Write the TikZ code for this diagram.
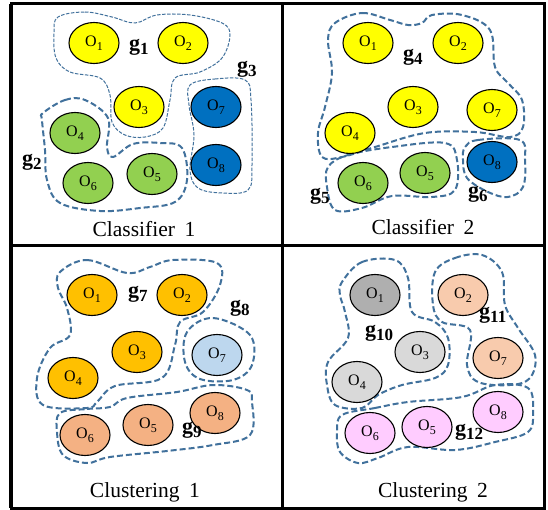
\documentclass[tikz,border=0pt]{standalone}
\usepackage{fontspec}
\setmainfont{Liberation Serif}
\usetikzlibrary{shapes.geometric}

\definecolor{grpline}{HTML}{41719C}
\definecolor{cyellow}{HTML}{FFFF00}
\definecolor{cgreen}{HTML}{92D050}
\definecolor{cblue}{HTML}{0070C0}
\definecolor{corange}{HTML}{FFC000}
\definecolor{clightblue}{HTML}{BDD7EE}
\definecolor{csalmon}{HTML}{F4B183}
\definecolor{cgraydark}{HTML}{AFAFAF}
\definecolor{cgraylight}{HTML}{D9D9D9}
\definecolor{cpeach}{HTML}{F8CBAD}
\definecolor{cpink}{HTML}{FFCCFF}

% object label O_i and group label g_i
\newcommand{\objlabel}[1]{O\raisebox{-4pt}{\fontsize{12}{12}\selectfont #1}}
\newcommand{\grouplabel}[1]{\textbf{g\raisebox{-4pt}{\fontsize{17}{17}\selectfont\bfseries #1}}}

\begin{document}
\begin{tikzpicture}[x=1pt,y=-1pt,
  obj/.style={ellipse, draw=black, line width=1.1pt, minimum width=50pt,
    minimum height=41pt, inner sep=0pt, font=\fontsize{16}{16}\selectfont},
  thingrp/.style={draw=grpline, line width=1pt, dash pattern=on 3.5pt off 1.5pt},
  thickgrp/.style={draw=grpline, line width=2pt, dash pattern=on 6pt off 3pt},
  glabel/.style={anchor=base west, inner sep=0pt, font=\fontsize{22}{22}\selectfont},
  caption/.style={anchor=base, inner sep=0pt, font=\fontsize{21.5}{21.5}\selectfont},
  frame/.style={line width=3pt}]

\useasboundingbox (0,0) rectangle (548,510);
\fill[white] (0,0) rectangle (548,510);

% ---------- Classifier 1 ----------
\draw[thingrp] plot[smooth cycle, tension=0.6] coordinates {
  (58,17) (85,12) (112,17) (135,23) (157,15) (190,15) (222,23) (230,35)
  (222,58) (200,72) (175,78) (170,100) (163,128) (145,137) (125,135)
  (112,122) (110,95) (100,78) (70,72) (56,58) (54,33)};
\draw[thingrp] plot[smooth cycle, tension=0.6] coordinates {
  (190,85) (215,79) (245,80) (251,100) (252,165) (248,190) (222,193)
  (198,188) (190,170) (194,135) (189,105)};
\draw[thickgrp] plot[smooth cycle, tension=0.6] coordinates {
  (43,113) (65,100) (85,100) (108,118) (107,147) (113,157) (133,144)
  (160,143) (182,148) (187,180) (175,202) (140,208) (100,211) (60,203)
  (47,180) (45,150) (42,120)};

\node[obj, fill=cyellow] (a1) at (94,43) {\objlabel{1}};
\node[obj, fill=cyellow] (a2) at (183,43) {\objlabel{2}};
\node[obj, fill=cyellow] (a3) at (139,107) {\objlabel{3}};
\node[obj, fill=cgreen] (a4) at (75,133) {\objlabel{4}};
\node[obj, fill=cgreen] (a5) at (152,174) {\objlabel{5}};
\node[obj, fill=cgreen] (a6) at (88,183) {\objlabel{6}};
\node[obj, fill=cblue] (a7) at (216,107) {\objlabel{7}};
\node[obj, fill=cblue] (a8) at (216,165) {\objlabel{8}};

\node[glabel] (g1) at (129,51) {\grouplabel{1}};
\node[glabel] (g2) at (22,166) {\grouplabel{2}};
\node[glabel] (g3) at (237,73) {\grouplabel{3}};
\node[caption] (cap1) at (144,237) {Classifier\hspace{0.45em}1};

% ---------- Classifier 2 ----------
\draw[thickgrp] plot[smooth cycle, tension=0.6] coordinates {
  (335,23) (362,13) (390,20) (408,25) (422,23) (432,15) (462,15) (490,30)
  (495,67) (508,83) (522,100) (523,127) (510,137) (475,132) (425,133)
  (375,147) (342,157) (322,157) (318,133) (325,107) (332,73) (328,40)};
\draw[thickgrp] plot[smooth cycle, tension=0.6] coordinates {
  (328,167) (348,155) (392,147) (445,143) (457,160) (455,190) (432,197)
  (392,196) (362,208) (335,210) (327,187)};
\draw[thickgrp] plot[smooth cycle, tension=0.6] coordinates {
  (465,147) (478,140) (520,140) (525,160) (523,187) (508,197) (488,192)
  (467,178) (463,160)};

\node[obj, fill=cyellow] (b1) at (368,43) {\objlabel{1}};
\node[obj, fill=cyellow] (b2) at (458,43) {\objlabel{2}};
\node[obj, fill=cyellow] (b3) at (413,107) {\objlabel{3}};
\node[obj, fill=cyellow] (b4) at (350,133) {\objlabel{4}};
\node[obj, fill=cgreen] (b5) at (425,173) {\objlabel{5}};
\node[obj, fill=cgreen] (b6) at (363,183) {\objlabel{6}};
\node[obj, fill=cyellow] (b7) at (492,110) {\objlabel{7}};
\node[obj, fill=cblue] (b8) at (492,162) {\objlabel{8}};

\node[glabel] (g4) at (403,61) {\grouplabel{4}};
\node[glabel] (g5) at (310,200) {\grouplabel{5}};
\node[glabel] (g6) at (468,198) {\grouplabel{6}};
\node[caption] (cap2) at (423,235) {Classifier\hspace{0.45em}2};

% ---------- Clustering 1 ----------
\draw[thickgrp] plot[smooth cycle, tension=0.6] coordinates {
  (60,272) (87,260) (127,273) (150,267) (173,260) (217,263) (220,285)
  (203,312) (180,322) (175,345) (162,378) (115,386) (97,402) (87,408)
  (43,405) (37,378) (50,348) (70,335) (67,308) (58,288)};
\draw[thickgrp] plot[smooth cycle, tension=0.6] coordinates {
  (187,332) (213,318) (250,335) (252,365) (233,380) (200,379) (185,362)};
\draw[thickgrp] plot[smooth cycle, tension=0.6] coordinates {
  (60,413) (87,409) (110,407) (127,398) (177,392) (213,385) (247,390)
  (252,402) (250,435) (213,445) (167,451) (110,457) (87,463) (63,455)
  (57,432)};

\node[obj, fill=corange] (c1) at (92,295) {\objlabel{1}};
\node[obj, fill=corange] (c2) at (182,295) {\objlabel{2}};
\node[obj, fill=corange] (c3) at (137,352) {\objlabel{3}};
\node[obj, fill=corange] (c4) at (73,378) {\objlabel{4}};
\node[obj, fill=csalmon] (c5) at (148,425) {\objlabel{5}};
\node[obj, fill=csalmon] (c6) at (85,435) {\objlabel{6}};
\node[obj, fill=clightblue] (c7) at (217,355) {\objlabel{7}};
\node[obj, fill=csalmon] (c8) at (215,413) {\objlabel{8}};

\node[glabel] (g7) at (128,298) {\grouplabel{7}};
\node[glabel] (g8) at (230,311) {\grouplabel{8}};
\node[glabel] (g9) at (182,433) {\grouplabel{9}};
\node[caption] (cap3) at (145,497) {Clustering\hspace{0.45em}1};

% ---------- Clustering 2 ----------
\draw[thickgrp] plot[smooth cycle, tension=0.6] coordinates {
  (342,282) (362,262) (395,260) (408,278) (412,312) (435,322) (448,338)
  (448,365) (435,378) (402,385) (378,395) (362,408) (335,405) (327,385)
  (328,362) (348,338) (345,312) (340,295)};
\draw[thickgrp] plot[smooth cycle, tension=0.6] coordinates {
  (435,272) (455,258) (482,255) (502,272) (505,305) (518,328) (535,355)
  (530,378) (510,385) (478,382) (467,365) (470,330) (442,322) (433,305)};
\draw[thickgrp] plot[smooth cycle, tension=0.6] coordinates {
  (342,415) (375,408) (408,402) (462,397) (495,385) (528,388) (533,412)
  (528,432) (495,442) (455,450) (408,447) (378,458) (358,463) (340,452)
  (337,432)};

\node[obj, fill=cgraydark] (d1) at (375,295) {\objlabel{1}};
\node[obj, fill=cpeach] (d2) at (463,295) {\objlabel{2}};
\node[obj, fill=cgraylight] (d3) at (420,352) {\objlabel{3}};
\node[obj, fill=cgraylight] (d4) at (357,382) {\objlabel{4}};
\node[obj, fill=cpink] (d5) at (427,427) {\objlabel{5}};
\node[obj, fill=cpink] (d6) at (370,433) {\objlabel{6}};
\node[obj, fill=cpeach] (d7) at (498,358) {\objlabel{7}};
\node[obj, fill=cpink] (d8) at (498,412) {\objlabel{8}};

\node[glabel] (g10) at (365,336) {\grouplabel{10}};
\node[glabel] (g11) at (479,318) {\grouplabel{11}};
\node[glabel] (g12) at (455,435) {\grouplabel{12}};
\node[caption] (cap4) at (433,497) {Clustering\hspace{0.45em}2};

% ---------- panel frame ----------
\draw[frame] (11,4) rectangle (544,508);
\draw[line width=4pt] (11,4) -- (11,508);
\draw[frame] (282,4) -- (282,508);
\draw[frame] (11,246) -- (544,246);
\end{tikzpicture}
\end{document}
